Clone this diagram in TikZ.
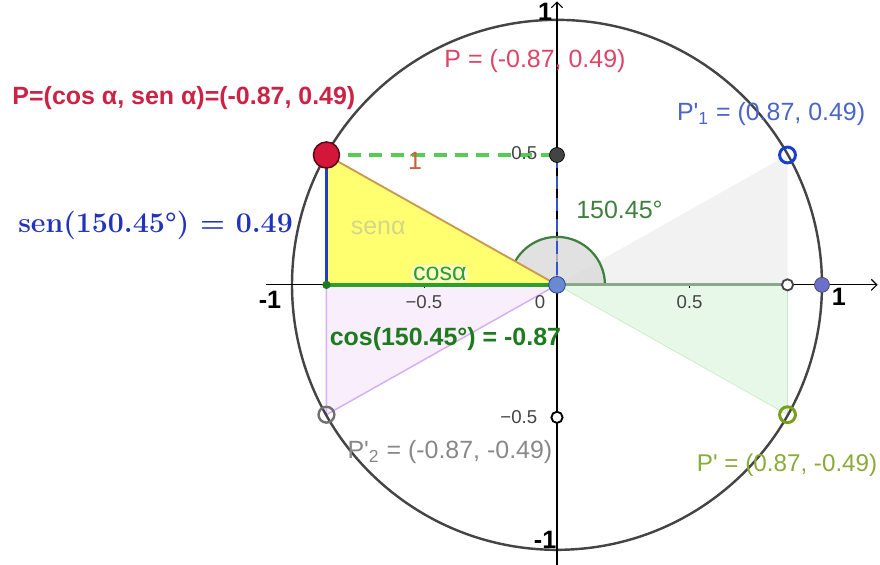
\documentclass[tikz,border=0pt]{standalone}
\usepackage[no-math]{fontspec}
\setmainfont{Liberation Sans}
\usepackage{amsmath}
\usepackage{xcolor}
\usetikzlibrary{arrows.meta, positioning, calc}

\definecolor{circgray}{HTML}{444444}
\definecolor{pred}{HTML}{D4163A}
\definecolor{plabel}{HTML}{CC2244}
\definecolor{ppink}{HTML}{DC4566}
\definecolor{senblue}{HTML}{2233BB}
\definecolor{sinblue}{HTML}{1E40C0}
\definecolor{cosgreen}{HTML}{2E9E2E}
\definecolor{cosdark}{HTML}{1D7A1D}
\definecolor{anggreen}{HTML}{3F803F}
\definecolor{hypbrown}{HTML}{C89A50}
\definecolor{onebrown}{HTML}{C8643A}
\definecolor{yelfill}{HTML}{FFFF70}
\definecolor{senlight}{HTML}{D6D68A}
\definecolor{pblue}{HTML}{1A3FCF}
\definecolor{pbluelab}{HTML}{4A64C8}
\definecolor{ptgray}{HTML}{707070}
\definecolor{labgray}{HTML}{888888}
\definecolor{polive}{HTML}{7A9E1A}
\definecolor{olivelab}{HTML}{8AAA3A}
\definecolor{purpedge}{HTML}{D5B0F5}
\definecolor{purpfill}{HTML}{F8EEFC}
\definecolor{grnfill}{HTML}{E8F8E8}
\definecolor{grnedge}{HTML}{C8EEC8}
\definecolor{grayfill}{HTML}{F2F2F2}
\definecolor{graygreen}{HTML}{8AA88A}
\definecolor{dashgreen}{HTML}{55CC55}
\definecolor{dashblue}{HTML}{3355CC}
\definecolor{ticktext}{HTML}{444444}
\definecolor{odot}{HTML}{6A8AD0}
\definecolor{edot}{HTML}{6A70CC}

\begin{document}
\begin{tikzpicture}[
    x=5cm, y=5cm,
    font=\fontsize{13.4}{15}\selectfont,
    dot/.style={circle, draw, inner sep=0pt, minimum size=#1},
    axis/.style={-{Straight Barb[length=3pt, width=6pt]}, line width=0.6pt},
    ticklab/.style={font=\fontsize{10}{12}\selectfont, text=ticktext},
    axislab/.style={font=\fontsize{13.5}{15}\selectfont\bfseries},
    dashline/.style={dashed, dash pattern=on 7pt off 4.5pt, line width=1.7pt}
]
\useasboundingbox (-2.102,-1.057) rectangle (1.219,1.075);

\coordinate (O) at (0,0);
\coordinate (P) at (-0.87,0.49);
\coordinate (Px) at (-0.87,0);
\coordinate (Py) at (0,0.49);
\coordinate (P1) at (0.87,0.49);
\coordinate (P1x) at (0.87,0);
\coordinate (P2) at (-0.87,-0.49);
\coordinate (P3) at (0.87,-0.49);
\coordinate (Q) at (0,-0.5);
\coordinate (E) at (1,0);
\coordinate (xl) at (-1.1,0);
\coordinate (xr) at (1.21,0);
\coordinate (yb) at (0,-1.06);
\coordinate (yt) at (0,1.07);

\fill[grayfill] (O) -- (P1) -- (P1x) -- cycle;
\filldraw[fill=grnfill, draw=grnedge] (O) -- (P3) -- (P1x) -- cycle;
\filldraw[fill=purpfill, draw=purpedge, line width=0.8pt] (O) -- (P2) -- (Px) -- cycle;
\fill[yelfill] (O) -- (P) -- (Px) -- cycle;

\draw[circgray, line width=1.3pt] (O) circle (1);

\draw[axis] (xl) -- (xr);
\draw[axis] (yb) -- (yt);
\foreach \t in {-0.5,0.5}
  \draw[line width=0.5pt] (\t,0) -- (\t,-0.012);

\fill[black!15, opacity=0.8] (O) -- (0.181,0) arc[start angle=0, end angle=150.45, radius=0.181] -- cycle;
\draw[anggreen, line width=1.2pt] (0.181,0) arc[start angle=0, end angle=150.45, radius=0.181];

\draw[hypbrown, line width=1pt] (P) -- (O);
\draw[graygreen, line width=1.6pt] (O) -- (P1x);
\draw[dashgreen, dashline] (P) -- (Py);
\draw[dashblue, dashline, line width=1.2pt] (Py) -- (O);
\draw[sinblue, line width=2pt] (Px) -- (P);
\draw[cosgreen, line width=2.2pt] (Px) -- (O);

\node[ticklab, anchor=east] at (-0.05,0.498) {0.5};
\node[ticklab, anchor=east] at (-0.05,-0.5) {−0.5};
\node[ticklab] at (-0.502,-0.064) {−0.5};
\node[ticklab] at (-0.064,-0.064) {0};
\node[ticklab] at (0.5,-0.064) {0.5};
\node[axislab] (xm1) at (-1.083,-0.057) {-1};
\node[axislab] (xp1) at (1.064,-0.045) {1};
\node[axislab] (yp1) at (-0.045,1.03) {1};
\node[axislab] (ym1) at (-0.045,-0.962) {-1};

\node[dot=8pt, fill=circgray, draw=black] (nPy) at (Py) {};
\node[dot=4pt, fill=cosdark, draw=cosdark] (nPx) at (Px) {};
\node[dot=6pt, draw=circgray, line width=1pt, fill=white] (nP1x) at (P1x) {};
\node[dot=6pt, draw=black, line width=1pt, fill=white] (nQ) at (Q) {};
\node[dot=8pt, fill=edot, draw=black!70] (nE) at (E) {};
\node[dot=9pt, fill=odot, draw=dashblue!70!black] (nO) at (O) {};
\node[dot=8.5pt, draw=pblue, line width=1.6pt] (nP1) at (P1) {};
\node[dot=8.5pt, draw=ptgray, line width=1.3pt] (nP2) at (P2) {};
\node[dot=8.5pt, draw=polive, line width=1.6pt] (nP3) at (P3) {};
\node[dot=14pt, fill=pred, draw=black!60!pred, line width=0.8pt] (nP) at (P) {};

\node[text=senlight] (sena) at (-0.675,0.215) {senα};
\node[text=cosgreen, fill=white, fill opacity=0.6, text opacity=1, inner sep=1pt, rounded corners=3pt] (cosa) at (-0.442,0.042) {cosα};
\node[text=onebrown] (one) at (-0.536,0.468) {1};
\node[text=anggreen] (ang) at (0.236,0.283) {150.45°};

\node[text=ppink] (lP) at (-0.083,0.845) {P = (-0.87, 0.49)};
\node[text=plabel, font=\fontsize{13.4}{15}\selectfont\bfseries] (lPcs) at (-1.408,0.706) {P=(cos α, sen α)=(-0.87, 0.49)};
\node[text=senblue, font=\fontfamily{lmr}\fontseries{bx}\fontsize{15.3}{18}\selectfont] (lsen) at (-1.515,0.226) {sen(150.45°) = 0.49};
\node[text=cosdark, font=\fontsize{13.4}{15}\selectfont\bfseries] (lcos) at (-0.421,-0.204) {cos(150.45°) = -0.87};
\node[text=pbluelab] (lP1) at (0.808,0.645) {P\textquotesingle\textsubscript{1} = (0.87, 0.49)};
\node[text=labgray] (lP2) at (-0.404,-0.630) {P\textquotesingle\textsubscript{2} = (-0.87, -0.49)};
\node[text=olivelab, font=\fontsize{13}{15}\selectfont, anchor=east, inner sep=1pt] (lP3) at (1.217,-0.679) {P\textquotesingle{} = (0.87, -0.49)};
\end{tikzpicture}
\end{document}
